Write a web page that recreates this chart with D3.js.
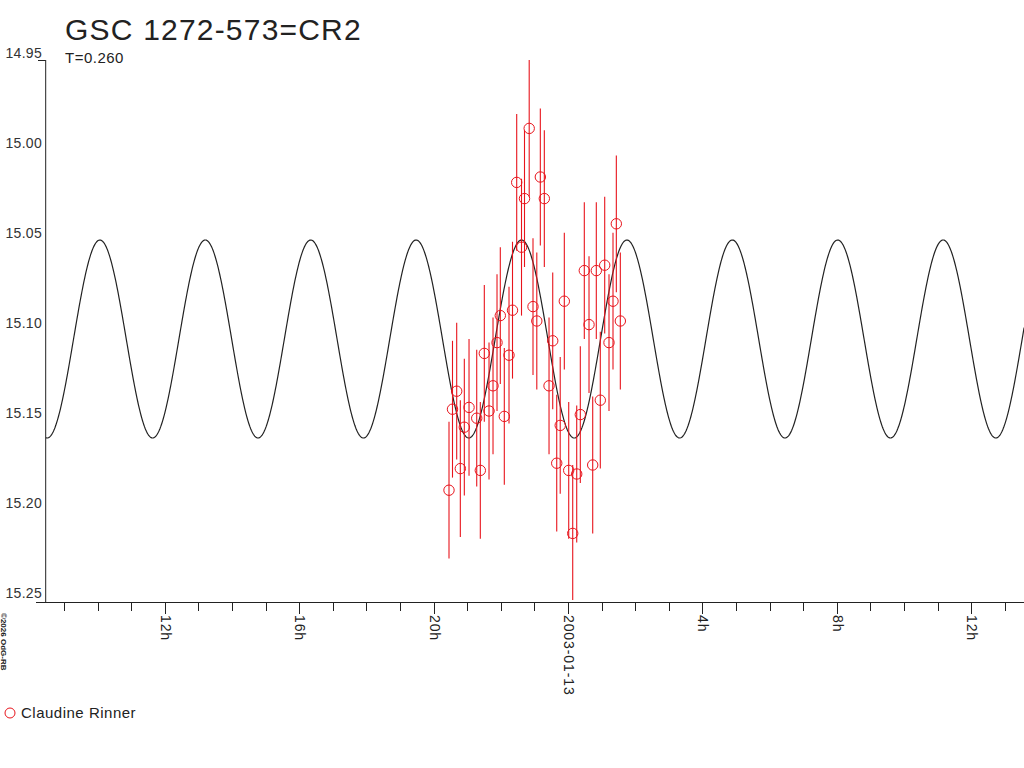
<!DOCTYPE html>
<html>
<head>
<meta charset="utf-8">
<script src="https://cdn.jsdelivr.net/npm/d3@7/dist/d3.min.js"></script>
<style>
  html, body { margin: 0; padding: 0; background: #fff; }
  svg { display: block; font-family: "Liberation Sans", Arial, sans-serif; }
</style>
</head>
<body>
<svg id="chart" width="1024" height="768"></svg>
<script>
// ---------- data ----------
const title = "GSC 1272-573=CR2";
const subtitle = "T=0.260";
const observer = "Claudine Rinner";
const copyright = "©2026 OdG-RB";

// observation times: hours relative to 2003-01-13 00:00 UT
const obsHours = [
  -3.542, -3.438, -3.313, -3.205, -3.086, -2.946, -2.717, -2.610, -2.491, -2.351,
  -2.232, -2.113, -2.015, -1.896, -1.756, -1.652, -1.527, -1.384, -1.295, -1.155,
  -1.042, -0.929, -0.824, -0.705, -0.565, -0.455, -0.336, -0.232, -0.110, 0.021,
  0.140, 0.259, 0.366, 0.485, 0.625, 0.735, 0.842, 0.961, 1.092, 1.220,
  1.339, 1.438, 1.557
];
// magnitudes
const obsMag = [
  15.189, 15.144, 15.134, 15.177, 15.154, 15.143, 15.149, 15.178, 15.113, 15.145,
  15.131, 15.107, 15.092, 15.148, 15.114, 15.089, 15.018, 15.054, 15.027, 14.988,
  15.087, 15.095, 15.015, 15.027, 15.131, 15.106, 15.174, 15.153, 15.084, 15.178,
  15.213, 15.180, 15.147, 15.067, 15.097, 15.175, 15.067, 15.139, 15.064, 15.107,
  15.084, 15.041, 15.095
];
// magnitude errors
const obsErr = [
  0.038, 0.038, 0.038, 0.038, 0.038, 0.038, 0.038, 0.038, 0.038, 0.038,
  0.038, 0.038, 0.038, 0.038, 0.038, 0.038, 0.038, 0.038, 0.038, 0.038,
  0.038, 0.038, 0.038, 0.038, 0.038, 0.038, 0.038, 0.038, 0.038, 0.038,
  0.038, 0.038, 0.038, 0.038, 0.038, 0.038, 0.038, 0.038, 0.038, 0.038,
  0.038, 0.038, 0.038
];

// sinusoidal ephemeris model (hours)
const modelPeriodH = 3.137;
const modelEpochH = -1.384;   // time of maximum light
const modelMean = 15.105;
const modelAmp = 0.055;

const yTicks = [14.95, 15.00, 15.05, 15.10, 15.15, 15.20, 15.25];
const xDomainHours = [-15.545, 13.571];

// ---------- layout ----------
(function () {
const svg = d3.select("#chart");
const H = 3600e3;
const base = Date.UTC(2003, 0, 13);
const pLeft = 45.7, pRight = 1024, pTop = 60, pBottom = 600, axisY = 602;

const x = d3.scaleUtc()
  .domain(xDomainHours.map(h => new Date(base + h * H)))
  .range([pLeft, pRight]);
const y = d3.scaleLinear().domain([14.95, 15.25]).range([pTop, pBottom]);

const ink = "#222";
const red = "#e8141c";

svg.append("defs").append("clipPath").attr("id", "plotclip")
  .append("rect").attr("x", pLeft).attr("y", pTop)
  .attr("width", pRight - pLeft).attr("height", pBottom - pTop);

// title
svg.append("text").attr("x", 65).attr("y", 40)
  .attr("font-size", 30).attr("letter-spacing", 1.2).attr("fill", ink).text(title);
svg.append("text").attr("x", 65).attr("y", 63)
  .attr("font-size", 15).attr("letter-spacing", 0.5).attr("fill", ink).text(subtitle);

// y axis
svg.append("line").attr("x1", pLeft).attr("x2", pLeft)
  .attr("y1", pTop).attr("y2", axisY).attr("stroke", ink).attr("stroke-width", 1);
svg.append("line").attr("x1", 38).attr("x2", pLeft)
  .attr("y1", pTop + 0.5).attr("y2", pTop + 0.5).attr("stroke", ink);
svg.selectAll(".ylab").data(yTicks).enter().append("text")
  .attr("class", "ylab")
  .attr("x", 42).attr("y", d => y(d) - 2.5)
  .attr("text-anchor", "end").attr("font-size", 14).attr("letter-spacing", 0.3)
  .attr("fill", "#333")
  .text(d => d.toFixed(2));

// x axis
svg.append("line").attr("x1", 36).attr("x2", pRight)
  .attr("y1", axisY + 0.5).attr("y2", axisY + 0.5).attr("stroke", ink);

const hourTicks = d3.utcHour.every(1).range(x.domain()[0], x.domain()[1]);
const gx = svg.append("g");
gx.selectAll("line").data(hourTicks).enter().append("line")
  .attr("x1", d => Math.round(x(d)) + 0.5).attr("x2", d => Math.round(x(d)) + 0.5)
  .attr("y1", axisY)
  .attr("y2", d => axisY + (d.getUTCHours() % 4 === 0 ? 12 : 9))
  .attr("stroke", ink);
const majors = hourTicks.filter(d => d.getUTCHours() % 4 === 0);
gx.selectAll("text").data(majors).enter().append("text")
  .attr("transform", d => `translate(${Math.round(x(d)) + 1},615) rotate(90)`)
  .attr("dominant-baseline", "central")
  .attr("font-size", 14).attr("letter-spacing", 0.9).attr("fill", ink)
  .text(d => d.getUTCHours() === 0 ? d3.utcFormat("%Y-%m-%d")(d) : d.getUTCHours() + "h");

// copyright
svg.append("text").attr("transform", "translate(3,613) rotate(90)")
  .attr("dominant-baseline", "central")
  .attr("font-size", 8).attr("font-weight", "bold").attr("fill", ink)
  .text(copyright);

// model curve
const plot = svg.append("g").attr("clip-path", "url(#plotclip)");
const curveHours = d3.range(xDomainHours[0], xDomainHours[1] + 0.02, 0.02);
const line = d3.line()
  .x(h => x(new Date(base + h * H)))
  .y(h => y(modelMean - modelAmp * Math.cos(2 * Math.PI * (h - modelEpochH) / modelPeriodH)));
plot.append("path").datum(curveHours).attr("d", line)
  .attr("fill", "none").attr("stroke", ink).attr("stroke-width", 1.2);

// observations
const obs = obsHours.map((h, i) => ({ t: new Date(base + h * H), m: obsMag[i], e: obsErr[i] }));
plot.selectAll(".err").data(obs).enter().append("line")
  .attr("x1", d => x(d.t)).attr("x2", d => x(d.t))
  .attr("y1", d => y(d.m - d.e)).attr("y2", d => y(d.m + d.e))
  .attr("stroke", red).attr("stroke-width", 1.1);
plot.selectAll(".pt").data(obs).enter().append("circle")
  .attr("cx", d => x(d.t)).attr("cy", d => y(d.m)).attr("r", 5.2)
  .attr("fill", "none").attr("stroke", red).attr("stroke-width", 1);

// legend
svg.append("circle").attr("cx", 10).attr("cy", 713).attr("r", 5)
  .attr("fill", "none").attr("stroke", red).attr("stroke-width", 1);
svg.append("text").attr("x", 21).attr("y", 718)
  .attr("font-size", 15).attr("letter-spacing", 0.5).attr("fill", ink).text(observer);
})();
</script>
</body>
</html>
